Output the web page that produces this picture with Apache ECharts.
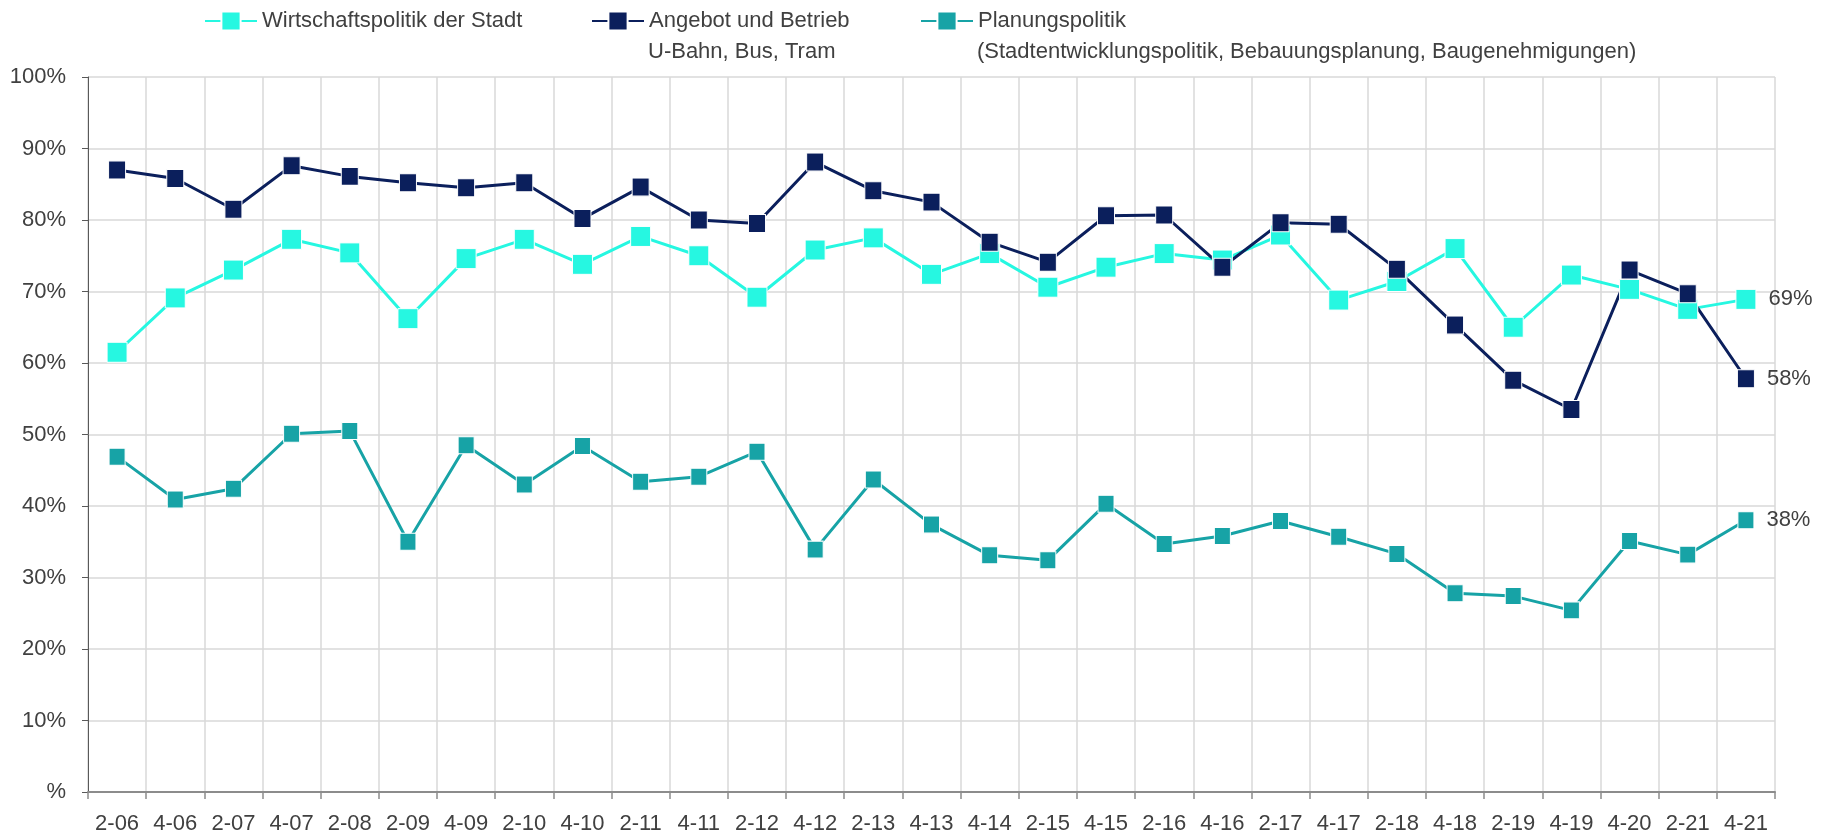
<!DOCTYPE html>
<html><head><meta charset="utf-8">
<script src="https://cdn.jsdelivr.net/npm/echarts@6/dist/echarts.min.js"></script>
<style>html,body{margin:0;padding:0;background:#fff}#c{width:1829px;height:838px}</style>
</head><body><div id="c"></div>
<script>
const categories = ['2-06','4-06','2-07','4-07','2-08','2-09','4-09','2-10','4-10','2-11','4-11','2-12','4-12','2-13','4-13','4-14','2-15','4-15','2-16','4-16','2-17','4-17','2-18','4-18','2-19','4-19','4-20','2-21','4-21'];
const wirtschaft = [61.5,69.1,73.0,77.3,75.4,66.2,74.6,77.3,73.8,77.7,75.0,69.2,75.8,77.5,72.4,75.3,70.6,73.4,75.3,74.4,77.9,68.8,71.4,76.0,65.0,72.3,70.3,67.5,68.9];
const angebot = [87.0,85.8,81.5,87.6,86.1,85.2,84.5,85.2,80.2,84.6,80.0,79.5,88.1,84.1,82.5,76.9,74.1,80.6,80.7,73.4,79.6,79.4,73.1,65.3,57.6,53.5,73.0,69.7,57.8];
const planung = [46.9,40.9,42.4,50.1,50.5,35.0,48.5,43.0,48.4,43.4,44.1,47.6,33.9,43.7,37.4,33.1,32.4,40.3,34.7,35.8,37.9,35.7,33.3,27.8,27.4,25.4,35.1,33.2,38.0];
const yTickLabels = ['%','10%','20%','30%','40%','50%','60%','70%','80%','90%','100%'];
const seriesNames = ['Wirtschaftspolitik der Stadt','Angebot und Betrieb','Planungspolitik'];
const seriesSub = ['', 'U-Bahn, Bus, Tram', '(Stadtentwicklungspolitik, Bebauungsplanung, Baugenehmigungen)'];
const colors = ['#26F7E1','#0B1F5C','#17A3A6'];

const FONT = 'Liberation Sans, Arial, sans-serif';
const TXT = '#404040';
const chart = echarts.init(document.getElementById('c'));
const lastIdx = categories.length - 1;
function mk(name, data, color, size) {
  return {
    name: name, type: 'line', data: data,
    symbol: 'rect', symbolSize: size,
    lineStyle: {color: color, width: 3},
    itemStyle: {color: color, borderColor: '#ffffff', borderWidth: 1},
    label: {
      show: true, position: 'right', distance: 12,
      color: TXT, fontSize: 22, fontFamily: FONT,
      formatter: p => p.dataIndex === lastIdx ? Math.round(p.value) + '%' : ''
    },
    emphasis: {disabled: true},
    animation: false
  };
}
const legendLefts = [199, 586, 915];
chart.setOption({
  animation: false,
  textStyle: {fontFamily: FONT},
  legend: seriesNames.map((n, i) => ({
    data: [n], left: legendLefts[i], top: 5,
    itemWidth: 52, itemHeight: 24, itemGap: 5,
    textStyle: {color: TXT, fontSize: 22, fontFamily: FONT},
    selectedMode: false
  })),
  graphic: seriesSub.map((s, i) => s ? ({
    type: 'text', left: legendLefts[i] + 62, top: 41,
    style: {text: s, fill: TXT, font: '22px ' + FONT}
  }) : null).filter(Boolean),
  grid: {left: 88, right: 54, top: 77, bottom: 46, show: true, borderWidth: 0},
  xAxis: {
    type: 'category', data: categories, boundaryGap: true,
    axisLine: {lineStyle: {color: '#8C8C8C', width: 2}},
    axisTick: {show: true, length: 7, lineStyle: {color: '#8C8C8C', width: 1.5}},
    axisLabel: {color: TXT, fontSize: 22, fontFamily: FONT, margin: 21, interval: 0},
    splitLine: {show: true, lineStyle: {color: '#D9D9D9', width: 1.5}}
  },
  yAxis: {
    type: 'value', min: 0, max: 100, interval: 10,
    axisLine: {show: true, lineStyle: {color: '#595959', width: 1}},
    axisTick: {show: true, length: 6, lineStyle: {color: '#595959'}},
    axisLabel: {color: TXT, fontSize: 22, fontFamily: FONT, margin: 22,
      formatter: v => yTickLabels[Math.round(v / 10)]},
    splitLine: {show: true, lineStyle: {color: '#D9D9D9', width: 1.5}}
  },
  series: [
    mk(seriesNames[0], wirtschaft, colors[0], [20, 20]),
    mk(seriesNames[1], angebot, colors[1], [17, 18]),
    mk(seriesNames[2], planung, colors[2], [16, 17])
  ]
});
</script></body></html>
